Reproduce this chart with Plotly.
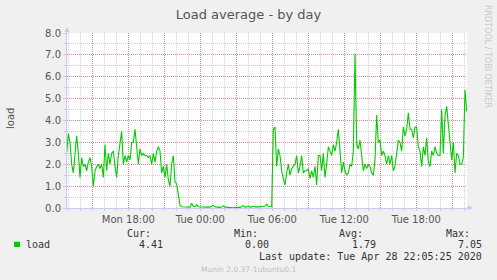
import pandas as pd
import plotly.graph_objects as go

# ---------------- data ----------------
title = "Load average - by day"
series_name = "load"
start_time = "2020-04-27 12:51:40"
step = "500s"
load = [
    2.5, 3.4, 3.0, 2.0, 1.6, 2.6, 3.3, 2.5, 1.4, 2.3,
    1.9, 2.0, 1.7, 2.1, 2.3, 1.9, 1.0, 1.7, 1.9, 2.0,
    1.8, 2.0, 1.4, 2.9, 1.7, 2.5, 2.0, 2.5, 2.6, 1.9,
    1.4, 2.4, 3.0, 3.5, 2.0, 2.4, 2.1, 2.4, 2.2, 3.0,
    3.0, 3.6, 2.8, 2.0, 2.7, 2.4, 2.5, 2.4, 2.4, 2.3,
    2.4, 2.0, 2.5, 2.1, 2.6, 2.8, 2.6, 1.6, 1.9, 1.4,
    2.0, 1.3, 1.0, 2.0, 2.4, 1.2, 1.1, 0.6, 0.13, 0.06,
    0.05, 0.04, 0.03, 0.05, 0.04, 0.22, 0.08, 0.05, 0.15, 0.06,
    0.05, 0.04, 0.06, 0.05, 0.04, 0.05, 0.04, 0.08, 0.12, 0.05,
    0.04, 0.06, 0.03, 0.05, 0.10, 0.04, 0.03, 0.02, 0.01, 0.02,
    0.01, 0.03, 0.02, 0.04, 0.03, 0.06, 0.12, 0.04, 0.05, 0.10,
    0.04, 0.05, 0.08, 0.05, 0.04, 0.06, 0.05, 0.08, 0.06, 0.09,
    0.18, 0.07, 0.05, 0.06,
    3.6, 3.7, 1.9, 2.7, 2.4, 1.7, 1.35, 1.05, 1.6, 2.0,
    1.5, 1.8, 1.9, 2.0, 2.4, 1.6, 1.9, 2.4, 1.6, 1.7,
    1.7, 1.8, 1.35, 1.7, 1.4, 1.9, 1.05, 2.4, 2.4, 1.7,
    2.5, 1.4, 2.0, 2.8, 2.6, 2.4, 2.9, 2.6, 3.0, 3.6,
    2.6, 1.6, 2.1, 1.7, 1.5, 1.6, 2.0, 1.9, 2.6, 7.05,
    2.9, 2.7, 3.1, 2.4, 1.7, 2.0, 1.8, 2.0, 1.9, 1.6,
    1.5, 2.2, 4.25, 3.0, 3.1, 2.4, 2.6, 2.4, 2.0, 2.4,
    2.0, 2.4, 1.7, 1.9, 2.5, 3.1, 3.0, 2.6, 3.7, 3.3,
    3.6, 4.35, 3.6, 3.6, 3.2, 3.7, 3.7, 2.8, 2.6, 1.9,
    2.8, 2.4, 3.2, 2.1, 1.9, 2.6, 2.4, 2.8, 2.5, 2.4,
    2.4, 4.5, 2.5, 4.2, 4.65, 3.7, 2.9, 2.2, 3.0, 1.6,
    2.5, 2.4, 2.0, 2.0, 2.3, 5.4, 4.41,
]
x_range = ["2020-04-27 12:53:20", "2020-04-28 22:13:20"]
tick_times = ["2020-04-27 15:00", "2020-04-27 18:00", "2020-04-27 21:00",
              "2020-04-28 00:00", "2020-04-28 03:00", "2020-04-28 06:00",
              "2020-04-28 09:00", "2020-04-28 12:00", "2020-04-28 15:00",
              "2020-04-28 18:00", "2020-04-28 21:00"]
tick_labels = ["", "Mon 18:00", "", "Tue 00:00", "", "Tue 06:00",
               "", "Tue 12:00", "", "Tue 18:00", ""]
y_ticks = [0, 1, 2, 3, 4, 5, 6, 7, 8]
y_labels = ["0.0", "1.0", "2.0", "3.0", "4.0", "5.0", "6.0", "7.0", "8.0"]
stat_names = ["Cur:", "Min:", "Avg:", "Max:"]
stat_values = ["4.41", "0.00", "1.79", "7.05"]
last_update = "Last update: Tue Apr 28 22:05:25 2020"
footer = "Munin 2.0.37-1ubuntu0.1"
watermark = "RRDTOOL / TOBI OETIKER"

# ---------------- layout helpers ----------------
W, H = 497, 280
L, R, T, B = 67, 30, 33, 72
PW, PH = W - L - R, H - T - B

def px(x):
    return (x - L) / PW

def py(y):
    return (H - B - y) / PH

times = pd.date_range(start=start_time, periods=len(load), freq=step)

GREEN = "#00CC00"
AXIS = "#c8c8f0"
MAJ = "rgba(245,90,90,0.6)"
MIN = "rgba(170,170,170,0.55)"
TXT = "#555555"
MONO = "DejaVu Sans Mono"
SANS = "DejaVu Sans"

fig = go.Figure()
fig.add_trace(go.Scatter(x=times, y=load, mode="lines",
                         line=dict(color=GREEN, width=1.1), name=series_name,
                         hoverinfo="skip"))

fig.update_layout(
    width=W, height=H,
    margin=dict(l=L, r=R, t=T, b=B),
    paper_bgcolor="#F0F0F0", plot_bgcolor="#FFFFFF",
    showlegend=False,
    title=dict(text=title, x=248.5 / W, xanchor="center", y=1 - 14 / H,
               yanchor="middle", yref="container",
               font=dict(family=SANS, size=13, color=TXT)),
)
fig.update_xaxes(
    type="date", range=x_range, tickmode="array", tickvals=tick_times,
    ticktext=tick_labels, showgrid=True, gridcolor=MAJ, griddash="1px,1px",
    gridwidth=1, showline=True, linecolor=AXIS, linewidth=1, zeroline=False,
    ticks="outside", ticklen=2, tickcolor=AXIS,
    tickfont=dict(family=SANS, size=10, color=TXT),
    minor=dict(dtick=3600000, tick0="2020-04-27 13:00", showgrid=True,
               gridcolor=MIN, griddash="1px,1px", gridwidth=1,
               ticks="outside", ticklen=2, tickcolor=AXIS),
)
fig.update_yaxes(
    range=[0, 8], tickmode="array", tickvals=y_ticks, ticktext=y_labels,
    showgrid=True, gridcolor=MAJ, griddash="1px,1px", gridwidth=1,
    showline=True, linecolor=AXIS, linewidth=1, zeroline=False,
    ticks="outside", ticklen=3, tickcolor=AXIS,
    tickfont=dict(family=SANS, size=10, color=TXT),
    minor=dict(dtick=0.5, tick0=0, showgrid=True, gridcolor=MIN,
               griddash="1px,1px", gridwidth=1, ticks="outside", ticklen=2,
               tickcolor=AXIS),
)

ann = []
def text(t, x, y, anchor="left", size=10, color=TXT, family=MONO, angle=0):
    ann.append(dict(text=t, x=px(x), y=py(y), xref="paper", yref="paper",
                    xanchor=anchor, yanchor="middle", showarrow=False,
                    textangle=angle, borderpad=0, borderwidth=0,
                    font=dict(family=family, size=size, color=color)))

# y-axis title
text(series_name, 10, 119, anchor="center", size=10, family=SANS, angle=-90)
# watermark
text(watermark, 488, 56, anchor="center", size=8, color="#c8c8c8",
     family=SANS, angle=90)
# legend row
text(series_name, 26, 244.3, color="#333333")
name_x = [150.7, 257.7, 363.3, 470.0]
val_x = [162.7, 269.3, 375.7, 482.3]
for n, v, nx, vx in zip(stat_names, stat_values, name_x, val_x):
    text(n, nx, 233.3, anchor="right", color="#333333")
    text(v, vx, 244.3, anchor="right", color="#333333")
text(last_update, 482.3, 256.7, anchor="right", color="#333333")
text(footer, 248, 269, anchor="center", size=7.5, color="#bdbdbd",
     family=SANS)

# axis arrows
ann.append(dict(x=0, y=1, xref="paper", yref="paper", ax=0, ay=8,
                yshift=6, showarrow=True, arrowhead=2, arrowsize=1,
                arrowwidth=1, arrowcolor=AXIS, text=""))
ann.append(dict(x=1, y=0, xref="paper", yref="paper", ax=-8, ay=0,
                xshift=6, showarrow=True, arrowhead=2, arrowsize=1,
                arrowwidth=1, arrowcolor=AXIS, text=""))
fig.update_layout(annotations=ann)

# legend colour swatch
fig.add_shape(type="rect", xref="paper", yref="paper",
              x0=px(14), x1=px(20), y0=py(247), y1=py(241.7),
              fillcolor=GREEN, line=dict(width=0))

fig.write_html("out.html", config={"displayModeBar": False})
